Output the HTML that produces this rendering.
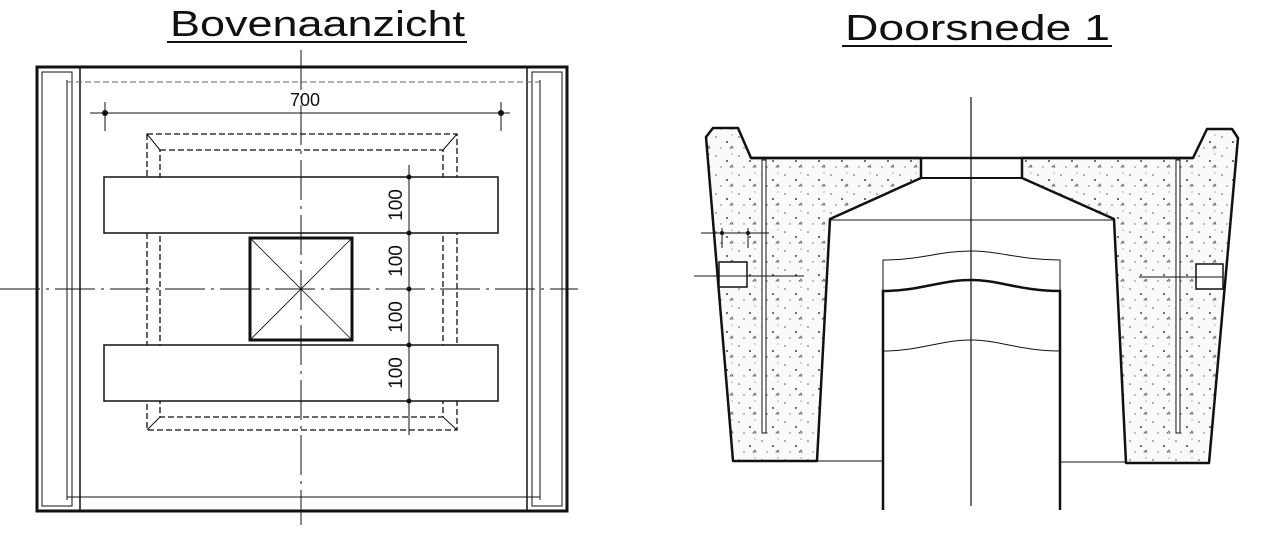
<!DOCTYPE html>
<html><head><style>
html,body{margin:0;padding:0;background:#fff;}
svg{display:block;}
text{font-family:"Liberation Sans",sans-serif;fill:#111;}
</style></head><body>
<svg width="1280" height="541" viewBox="0 0 1280 541" xmlns="http://www.w3.org/2000/svg">
<defs>
<pattern id="conc" width="23" height="19" patternUnits="userSpaceOnUse">
<rect width="23" height="19" fill="#fafafa"/>
<circle cx="3" cy="4" r="0.8" fill="#555"/>
<circle cx="14" cy="9" r="1" fill="#444"/>
<circle cx="8" cy="15" r="0.7" fill="#666"/>
<circle cx="19" cy="2" r="0.6" fill="#777"/>
<path d="M17 15 l2 -2 l1 2 z" fill="none" stroke="#555" stroke-width="0.7"/>
</pattern>
</defs>

<text x="170" y="36" font-size="36" textLength="295" lengthAdjust="spacingAndGlyphs">Bovenaanzicht</text>
<line x1="167" y1="42" x2="467" y2="42" stroke="#111" stroke-width="2"/>
<text x="845" y="40" font-size="36" textLength="265" lengthAdjust="spacingAndGlyphs">Doorsnede  1</text>
<line x1="842" y1="46" x2="1112" y2="46" stroke="#111" stroke-width="2"/>

<g fill="none" stroke="#111">
<rect x="37" y="67" width="530" height="444" stroke-width="3"/>
<line x1="80" y1="67" x2="80" y2="511" stroke-width="1.5"/>
<line x1="527" y1="67" x2="527" y2="511" stroke-width="1.5"/>
<rect x="42" y="72" width="30" height="434" stroke-width="1"/>
<rect x="532" y="72" width="30" height="434" stroke-width="1"/>
<line x1="67" y1="80" x2="67" y2="500" stroke-width="1"/>
<line x1="540" y1="80" x2="540" y2="500" stroke-width="1"/>
<line x1="67" y1="82" x2="540" y2="82" stroke-width="1" stroke-dasharray="6,3" stroke="#666"/>
<line x1="67" y1="497" x2="540" y2="497" stroke-width="1"/>
<line x1="90" y1="113" x2="510" y2="113" stroke-width="1"/>
<line x1="105" y1="102" x2="105" y2="131" stroke-width="1"/>
<line x1="501" y1="102" x2="501" y2="131" stroke-width="1"/>
<rect x="147" y="134" width="310" height="296" stroke-width="1.3" stroke-dasharray="6,3"/>
<rect x="160" y="150" width="283" height="267" stroke-width="1.3" stroke-dasharray="6,3"/>
<line x1="147" y1="134" x2="160" y2="150" stroke-width="1"/>
<line x1="457" y1="134" x2="443" y2="150" stroke-width="1"/>
<line x1="147" y1="430" x2="160" y2="417" stroke-width="1"/>
<line x1="457" y1="430" x2="443" y2="417" stroke-width="1"/>
<rect x="104" y="177" width="394" height="56" stroke-width="1.5" fill="#fff"/>
<rect x="104" y="345" width="394" height="56" stroke-width="1.5" fill="#fff"/>
<rect x="250" y="238" width="102" height="102" stroke-width="3" fill="#fff"/>
<line x1="250" y1="238" x2="352" y2="340" stroke-width="0.8"/>
<line x1="352" y1="238" x2="250" y2="340" stroke-width="0.8"/>
<line x1="301" y1="50" x2="301" y2="525" stroke-width="1" stroke-dasharray="40,6,3,6"/>
<line x1="0" y1="289" x2="578" y2="289" stroke-width="1" stroke-dasharray="40,6,3,6"/>
<line x1="409" y1="165" x2="409" y2="435" stroke-width="1"/>
</g>
<g fill="#111">
<circle cx="105" cy="113" r="3"/><circle cx="501" cy="113" r="3"/>
<circle cx="409" cy="177" r="2.5"/><circle cx="409" cy="233" r="2.5"/><circle cx="409" cy="289" r="2.5"/><circle cx="409" cy="345" r="2.5"/><circle cx="409" cy="401" r="2.5"/>
</g>
<text x="305" y="106" font-size="18" text-anchor="middle">700</text>
<g font-size="19" text-anchor="middle">
<text transform="translate(402,205) rotate(-90)">100</text>
<text transform="translate(402,261) rotate(-90)">100</text>
<text transform="translate(402,317) rotate(-90)">100</text>
<text transform="translate(402,373) rotate(-90)">100</text>
</g>

<path d="M706,137 L713,128 L738,128 L751,158 L921,158 L921,178 L830,219 L817,461 L733,461 Z" fill="url(#conc)" stroke="#111" stroke-width="2.5" stroke-linejoin="round"/>
<path d="M1238,138 L1232,129 L1207,129 L1193,158 L1022,158 L1022,178 L1114,219 L1126,463 L1209,463 Z" fill="url(#conc)" stroke="#111" stroke-width="2.5" stroke-linejoin="round"/>
<g fill="none" stroke="#111">
<line x1="751" y1="158" x2="1193" y2="158" stroke-width="2.5"/>
<line x1="921" y1="178" x2="1022" y2="178" stroke-width="2"/>
<line x1="830" y1="220" x2="1114" y2="220" stroke-width="1"/>
<line x1="817" y1="461" x2="883" y2="461" stroke-width="1"/>
<line x1="1060" y1="462" x2="1126" y2="462" stroke-width="1"/>
<path d="M883,510 L883,291 C920,291 940,280 971,280 C1000,280 1020,291 1060,291 L1060,510" stroke-width="2.5"/>
<path d="M883,291 L883,260 C920,260 940,251 971,251 C1000,251 1020,260 1060,260 L1060,291" stroke-width="1"/>
<path d="M883,351 C920,351 940,340 971,340 C1000,340 1020,351 1060,351" stroke-width="1"/>
<line x1="971" y1="97" x2="971" y2="506" stroke-width="1.2"/>
<rect x="762" y="160" width="4" height="273" stroke-width="1" fill="#fff"/>
<rect x="1176" y="160" width="4" height="273" stroke-width="1" fill="#fff"/>
<rect x="719" y="262" width="28" height="25" stroke-width="1.5" fill="#fff"/>
<rect x="1196" y="264" width="27" height="25" stroke-width="1.5" fill="#fff"/>
<line x1="694" y1="276" x2="804" y2="276" stroke-width="1"/>
<line x1="1139" y1="277" x2="1223" y2="277" stroke-width="1"/>
<line x1="701" y1="233" x2="769" y2="233" stroke-width="1"/>
<line x1="722" y1="228" x2="722" y2="248" stroke-width="1"/>
<line x1="748" y1="228" x2="748" y2="248" stroke-width="1"/>
</g>
<circle cx="722" cy="233" r="2" fill="#111"/><circle cx="748" cy="233" r="2" fill="#111"/>
</svg>
</body></html>
